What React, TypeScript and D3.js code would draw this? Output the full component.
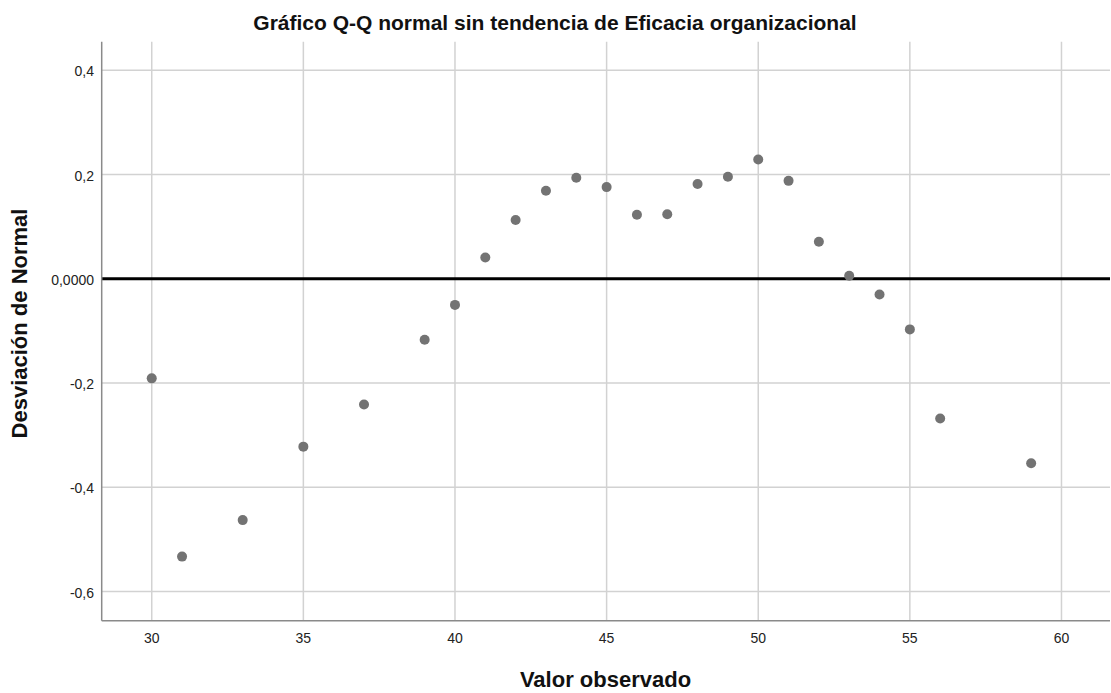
import React from "react";
import * as d3 from "d3";

const observed = [30, 31, 33, 35, 37, 39, 40, 41, 42, 43, 44, 45, 46, 47, 48, 49, 50, 51, 52, 53, 54, 55, 56, 59];
const deviation = [-0.191, -0.533, -0.463, -0.322, -0.241, -0.117, -0.05, 0.041, 0.113, 0.169, 0.194, 0.176, 0.123, 0.124, 0.182, 0.196, 0.229, 0.188, 0.071, 0.006, -0.03, -0.097, -0.268, -0.354];
const xTicks = [30, 35, 40, 45, 50, 55, 60];
const yTicks = [0.4, 0.2, 0, -0.2, -0.4, -0.6];
const yTickLabels = ["0,4", "0,2", "0,0000", "-0,2", "-0,4", "-0,6"];

const title = "Gráfico Q-Q normal sin tendencia de Eficacia organizacional";
const xLabel = "Valor observado";
const yLabel = "Desviación de Normal";

export default function App() {
  const W = 1111, H = 693;
  const left = 101.7, right = 1110, top = 41.7, bottom = 620.7;
  const x = d3.scaleLinear().domain([28.35, 61.6]).range([left, right]);
  const y = d3.scaleLinear().domain([-0.656, 0.455]).range([bottom, top]);
  const font = "'Liberation Sans', Arial, sans-serif";
  return (
    <svg width={W} height={H} style={{ position: "absolute", left: 0, top: 0, background: "#fff" }} fontFamily={font}>
      <rect x={0} y={0} width={W} height={H} fill="#fff" />
      {xTicks.map((t) => (
        <line key={"gx" + t} x1={x(t)} x2={x(t)} y1={top} y2={bottom} stroke="#d2d2d2" strokeWidth={1.5} />
      ))}
      {yTicks.filter((t) => t !== 0).map((t) => (
        <line key={"gy" + t} x1={left} x2={right} y1={y(t)} y2={y(t)} stroke="#d2d2d2" strokeWidth={1.5} />
      ))}
      <line x1={left} x2={right} y1={y(0)} y2={y(0)} stroke="#000" strokeWidth={3} />
      <line x1={left} x2={left} y1={top} y2={bottom} stroke="#8a8a8a" strokeWidth={1.5} />
      <line x1={left} x2={right} y1={bottom} y2={bottom} stroke="#8a8a8a" strokeWidth={1.5} />
      {observed.map((v, i) => (
        <circle key={"p" + i} cx={x(v)} cy={y(deviation[i])} r={5} fill="#737373" />
      ))}
      {xTicks.map((t) => (
        <text key={"tx" + t} x={x(t)} y={643} textAnchor="middle" fontSize={14} fill="#222">{t}</text>
      ))}
      {yTicks.map((t, i) => (
        <text key={"ty" + t} x={94} y={y(t) + 6} textAnchor="end" fontSize={14} fill="#222">{yTickLabels[i]}</text>
      ))}
      <text x={555} y={30} textAnchor="middle" fontSize={21} fontWeight="bold" fill="#111">{title}</text>
      <text x={605.5} y={686.5} textAnchor="middle" fontSize={22} fontWeight="bold" fill="#111">{xLabel}</text>
      <text transform={`translate(27, 323.5) rotate(-90)`} textAnchor="middle" fontSize={22} fontWeight="bold" fill="#111">{yLabel}</text>
    </svg>
  );
}
